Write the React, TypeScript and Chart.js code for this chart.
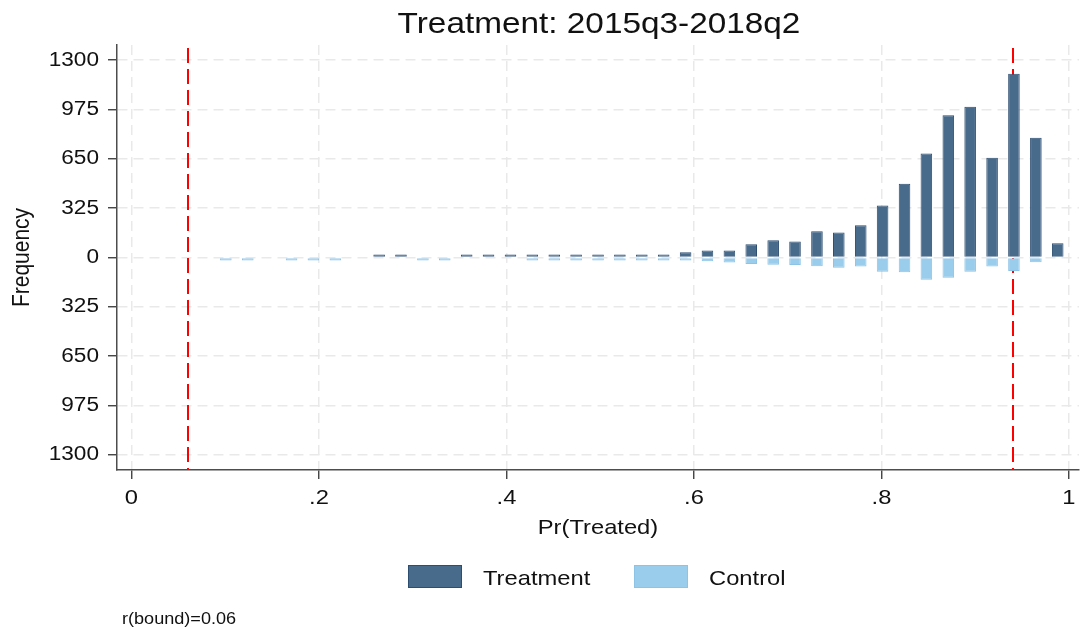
import { useEffect, useRef } from "react";
import { Chart, registerables } from "chart.js";

Chart.register(...registerables);

// Histogram bin centres on the propensity-score axis
const BIN_CENTERS = [
  0.1007, 0.1241, 0.1474, 0.1708, 0.1941, 0.2175, 0.2408, 0.2642, 0.2875, 0.3109,
  0.3342, 0.3576, 0.3809, 0.4043, 0.4276, 0.451, 0.4743, 0.4977, 0.521, 0.5444,
  0.5677, 0.5911, 0.6144, 0.6378, 0.6611, 0.6845, 0.7078, 0.7312, 0.7545, 0.7779,
  0.8012, 0.8246, 0.8479, 0.8713, 0.8946, 0.918, 0.9413, 0.9647, 0.988,
];

// Counts per bin (null = empty bin)
const TREATED: (number | null)[] = [
  null, null, null, null, null, null, null, 2, 2, null,
  null, 3, 3, 3, 4, 5, 7, 9, 9, 13,
  18, 35, 46, 46, 88, 114, 105, 173, 165, 213,
  342, 485, 685, 937, 992, 656, 1209, 788, 94,
];
const CONTROL: (number | null)[] = [
  5, 5, null, 4, 5, 5, null, null, null, 4,
  4, null, null, null, 2, 3, 4, 3, 15, 9,
  20, 18, 24, 33, 42, 48, 50, 57, 68, 59,
  94, 97, 147, 134, 94, 59, 89, 31, null,
];

const X_TICKS = [0, 0.2, 0.4, 0.6, 0.8, 1];
const X_TICK_LABELS = ["0", ".2", ".4", ".6", ".8", "1"];
const Y_TICKS = [-1300, -975, -650, -325, 0, 325, 650, 975, 1300];
const Y_TICK_LABELS = ["1300", "975", "650", "325", "0", "325", "650", "975", "1300"];
const BOUNDS = [0.06, 0.94];

const TITLE = "Treatment: 2015q3-2018q2";
const X_TITLE = "Pr(Treated)";
const Y_TITLE = "Frequency";
const NOTE = "r(bound)=0.06";
const SERIES = ["Treatment", "Control"];

const TREAT_FILL = "#486a8b";
const TREAT_EDGE = "#2d4e71";
const CTRL_FILL = "#9accec";
const CTRL_EDGE = "#8cc3e7";

const FONT = '"Liberation Sans", Arial, sans-serif';
const SX = 1.13; // glyphs are drawn slightly wide

function drawText(
  ctx: CanvasRenderingContext2D,
  str: string,
  x: number,
  y: number,
  size: number,
  align: CanvasTextAlign,
  baseline: CanvasTextBaseline = "alphabetic",
  rotate = false
) {
  ctx.save();
  ctx.translate(x, y);
  ctx.scale(SX, 1);
  if (rotate) ctx.rotate(-Math.PI / 2);
  ctx.font = `${size}px ${FONT}`;
  ctx.fillStyle = "#111";
  ctx.textAlign = align;
  ctx.textBaseline = baseline;
  ctx.fillText(str, 0, 0);
  ctx.restore();
}

const decorations = {
  id: "decorations",
  beforeDatasetsDraw(chart: any) {
    const { ctx, chartArea, scales } = chart;
    ctx.save();
    ctx.strokeStyle = "#ff0000";
    ctx.lineWidth = 2;
    ctx.setLineDash([15, 6]);
    ctx.lineDashOffset = -3;
    for (const v of BOUNDS) {
      const px = Math.round(scales.x.getPixelForValue(v));
      ctx.beginPath();
      ctx.moveTo(px, chartArea.top);
      ctx.lineTo(px, chartArea.bottom);
      ctx.stroke();
    }
    ctx.restore();
  },
  afterDraw(chart: any) {
    const { ctx, chartArea, scales } = chart;
    const xs = scales.x;
    const ys = scales.y;

    // tick labels
    ys.ticks.forEach((t: any, i: number) => {
      drawText(ctx, Y_TICK_LABELS[i], chartArea.left - 18, ys.getPixelForValue(t.value), 20, "right", "middle");
    });
    xs.ticks.forEach((t: any, i: number) => {
      drawText(ctx, X_TICK_LABELS[i], xs.getPixelForValue(t.value), 498, 21, "center", "middle");
    });

    // titles
    const cx = (chartArea.left + chartArea.right) / 2;
    drawText(ctx, TITLE, cx + 1, 33, 29.5, "center");
    drawText(ctx, X_TITLE, cx, 534, 21, "center");
    drawText(ctx, Y_TITLE, 22, (chartArea.top + chartArea.bottom) / 2, 21, "center", "middle", true);

    // legend
    const items = [
      { label: SERIES[0], fill: TREAT_FILL, edge: TREAT_EDGE, x: 408 },
      { label: SERIES[1], fill: CTRL_FILL, edge: CTRL_EDGE, x: 634 },
    ];
    for (const it of items) {
      ctx.save();
      ctx.fillStyle = it.fill;
      ctx.fillRect(it.x, 565, 54, 23);
      ctx.strokeStyle = it.edge;
      ctx.lineWidth = 1;
      ctx.strokeRect(it.x + 0.5, 565.5, 53, 22);
      ctx.restore();
      drawText(ctx, it.label, it.x + 75, 584.5, 21, "left");
    }

    // note
    drawText(ctx, NOTE, 122, 624, 16, "left");
  },
};

export default function App() {
  const ref = useRef<HTMLCanvasElement>(null);

  useEffect(() => {
    const canvas = ref.current;
    if (!canvas) return;

    const treated = BIN_CENTERS.map((x, i) => ({ x, y: TREATED[i] }));
    const control = BIN_CENTERS.map((x, i) => ({
      x,
      y: CONTROL[i] === null ? null : -(CONTROL[i] as number),
    }));

    const gridCommon = {
      color: "#e9e9e9",
      lineWidth: 1.5,
      drawTicks: true,
      tickLength: 9,
      tickColor: "#333",
      tickWidth: 1.3,
      offset: false,
    };
    const borderCommon = { display: true, color: "#4d4d4d", width: 1.5, dash: [10, 6] };

    const chart = new Chart(canvas, {
      type: "bar",
      data: {
        datasets: [
          {
            label: SERIES[0],
            data: treated as any,
            backgroundColor: TREAT_FILL,
            borderColor: TREAT_EDGE,
            borderWidth: 1,
            grouped: false,
            categoryPercentage: 1,
            barPercentage: 0.53,
            minBarLength: 3,
          },
          {
            label: SERIES[1],
            data: control as any,
            backgroundColor: CTRL_FILL,
            borderColor: CTRL_EDGE,
            borderWidth: 1,
            grouped: false,
            categoryPercentage: 1,
            barPercentage: 0.53,
            minBarLength: 3,
          },
        ],
      },
      options: {
        responsive: false,
        animation: false,
        devicePixelRatio: 1,
        layout: { padding: { top: 45, left: 0, right: 2, bottom: 120 } },
        plugins: {
          legend: { display: false },
          tooltip: { enabled: false },
          title: { display: false },
        },
        scales: {
          x: {
            type: "linear",
            position: "bottom",
            min: -0.0154,
            max: 1.0107,
            offset: false,
            grid: gridCommon,
            border: borderCommon,
            ticks: { display: false },
            afterBuildTicks: (s: any) => {
              s.ticks = X_TICKS.map((value) => ({ value }));
            },
            afterFit: (s: any) => {
              s.height = 40;
            },
          },
          y: {
            type: "linear",
            position: "left",
            min: -1399,
            max: 1399,
            grid: gridCommon,
            border: borderCommon,
            ticks: { display: false },
            afterBuildTicks: (s: any) => {
              s.ticks = Y_TICKS.map((value) => ({ value }));
            },
            afterFit: (s: any) => {
              s.width = 117;
            },
          },
        },
      } as any,
      plugins: [decorations],
    });

    return () => chart.destroy();
  }, []);

  return (
    <div style={{ position: "fixed", left: 0, top: 0, width: 1081, height: 630, background: "#fff" }}>
      <canvas ref={ref} width={1081} height={630} style={{ display: "block", width: 1081, height: 630 }} />
    </div>
  );
}
